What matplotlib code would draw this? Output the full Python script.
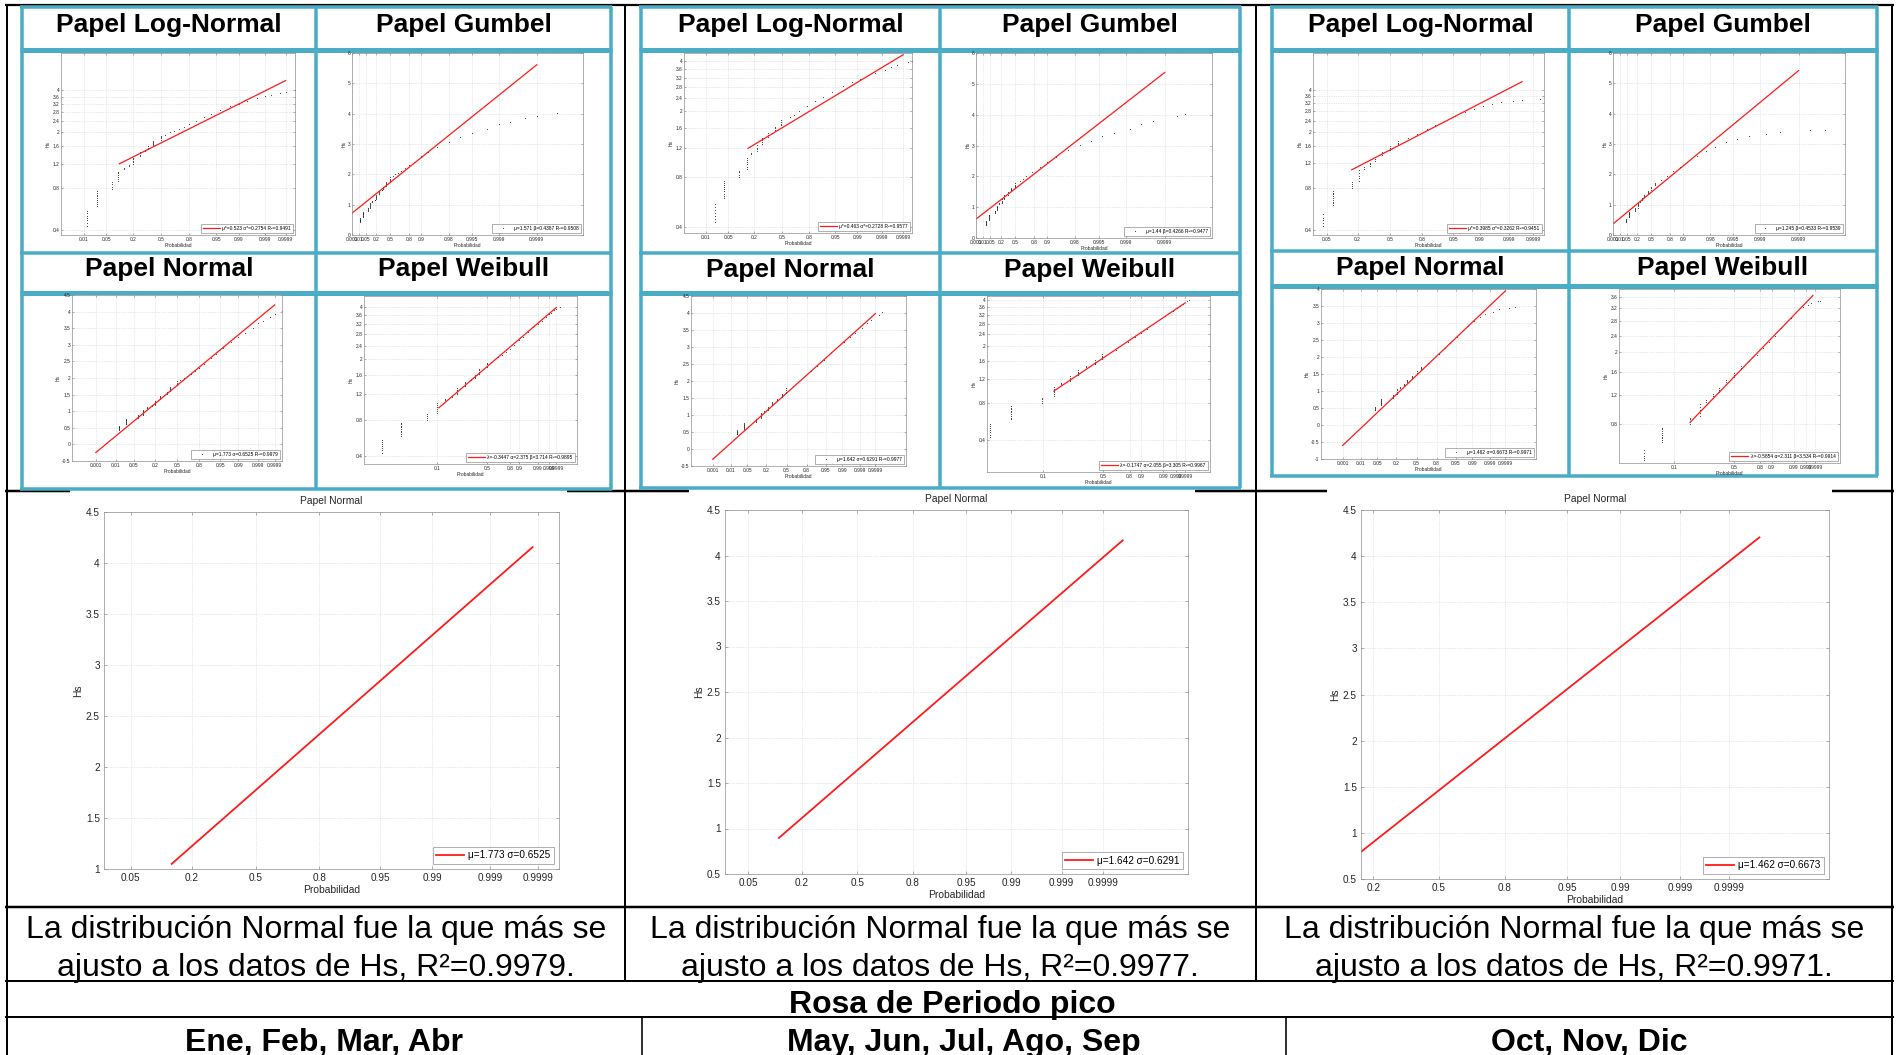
import numpy as np
import matplotlib.pyplot as plt
from matplotlib.patches import Rectangle
from matplotlib.ticker import FormatStrFormatter, NullLocator
from math import erf, sqrt

plt.rcParams['font.family'] = ['Liberation Sans', 'DejaVu Sans']

W, H = 1898, 1055
CIAN = '#4BACC6'
ROJO = '#ff1a1a'
GRIS = '#8f8f8f'

temporadas = ['Ene, Feb, Mar, Abr', 'May, Jun, Jul, Ago, Sep', 'Oct, Nov, Dic']
titulos_papel = ['Papel Log-Normal', 'Papel Gumbel', 'Papel Normal', 'Papel Weibull']

# probabilidad de no excedencia y Hs (m) de cada muestra
ene_prob = ([0.013] * 7 + [0.027] * 9 + [0.07] * 4 + [0.10] * 6 + [0.13] * 2 + [0.17] * 2
            + [0.20] * 5 + [0.26] * 4 + [0.31] * 2 + [0.35] * 3 + [0.40] * 5 + [0.50] * 4
            + [0.55, 0.60, 0.65, 0.70, 0.75, 0.80, 0.85, 0.90, 0.93, 0.96, 0.98, 0.99,
               0.995, 0.998, 0.999, 0.9995, 0.9998, 0.9999, 0.99997])
ene_hs = [0.43, 0.45, 0.47, 0.49, 0.51, 0.53, 0.55,
          0.60, 0.62, 0.64, 0.66, 0.68, 0.70, 0.72, 0.74, 0.76,
          0.79, 0.82, 0.85, 0.88,
          0.90, 0.93, 0.96, 0.99, 1.02, 1.05,
          1.10, 1.12,
          1.15, 1.17,
          1.20, 1.23, 1.26, 1.29, 1.32,
          1.36, 1.39, 1.42, 1.45,
          1.48, 1.50,
          1.53, 1.56, 1.59,
          1.62, 1.65, 1.68, 1.71, 1.74,
          1.78, 1.82, 1.86, 1.90,
          1.93, 2.00, 2.05, 2.12, 2.20, 2.30, 2.42, 2.60, 2.72, 2.90, 3.08, 3.22,
          3.35, 3.50, 3.65, 3.72, 3.85, 3.92, 4.02]

may_prob = ([0.02] * 7 + [0.038] * 9 + [0.097] * 4 + [0.14] * 6 + [0.17] * 2 + [0.22] * 4
            + [0.27] * 4 + [0.34] * 3 + [0.42] * 4 + [0.49] * 4
            + [0.60, 0.65, 0.70, 0.78, 0.85, 0.90, 0.94, 0.97, 0.985, 0.992, 0.996, 0.998,
               0.9992, 0.9996, 0.9998, 0.99995, 0.99997])
may_hs = [0.43, 0.45, 0.47, 0.49, 0.51, 0.53, 0.55,
          0.60, 0.62, 0.64, 0.66, 0.68, 0.70, 0.72, 0.74, 0.76,
          0.80, 0.83, 0.86, 0.88,
          0.90, 0.93, 0.96, 0.99, 1.02, 1.05,
          1.10, 1.12,
          1.15, 1.18, 1.21, 1.25,
          1.28, 1.31, 1.35, 1.38,
          1.41, 1.45, 1.48,
          1.52, 1.55, 1.58, 1.62,
          1.65, 1.69, 1.73, 1.78,
          1.85, 1.90, 2.00, 2.15, 2.30, 2.45, 2.62, 2.85, 3.02, 3.15, 3.30, 3.42,
          3.55, 3.70, 3.80, 3.95, 4.03]

oct_prob = ([0.04] * 5 + [0.07] * 9 + [0.16] * 4 + [0.21] * 5 + [0.25] * 2 + [0.30] * 3
            + [0.35] * 3 + [0.42] * 3 + [0.50] * 3 + [0.58] * 3
            + [0.68, 0.76, 0.83, 0.88, 0.92, 0.955, 0.975, 0.985, 0.992, 0.996, 0.998,
               0.9993, 0.9997, 0.99995, 0.99998])
oct_hs = [0.43, 0.45, 0.47, 0.49, 0.52,
          0.60, 0.62, 0.64, 0.66, 0.68, 0.70, 0.72, 0.74, 0.76,
          0.80, 0.83, 0.86, 0.88,
          0.90, 0.94, 0.98, 1.02, 1.07,
          1.10, 1.12,
          1.15, 1.18, 1.21,
          1.25, 1.28, 1.32,
          1.38, 1.41, 1.45,
          1.50, 1.54, 1.58,
          1.65, 1.68, 1.72,
          1.82, 1.95, 2.10, 2.25, 2.40, 2.60, 2.78, 2.90, 3.05, 3.18, 3.25,
          3.33, 3.40, 3.45, 3.47]

datos = [(ene_prob, ene_hs), (may_prob, may_hs), (oct_prob, oct_hs)]

# parámetros ajustados por temporada
normal_mu = [1.773, 1.642, 1.462]
normal_sigma = [0.6525, 0.6291, 0.6673]
normal_r2 = [0.9979, 0.9977, 0.9971]
lognorm_mu = [0.523, 0.463, 0.3985]
lognorm_sigma = [0.2754, 0.2728, 0.3262]
lognorm_r2 = [0.9491, 0.9577, 0.9451]
gumbel_mu = [1.571, 1.44, 1.245]
gumbel_beta = [0.4387, 0.4266, 0.4533]
gumbel_r2 = [0.9508, 0.9477, 0.9539]
weibull_loc = [-0.3447, -0.1747, -0.5854]
weibull_esc = [2.375, 2.055, 2.311]
weibull_forma = [3.714, 3.305, 3.534]
weibull_r2 = [0.9895, 0.9967, 0.9914]

# rango de probabilidad que cubre cada recta de ajuste
rango_normal = [(0.001, 0.9999), (0.001, 0.9999), (0.001, 0.9999)]
rango_lognorm = [(0.105, 0.9999), (0.15, 0.9999), (0.16, 0.9997)]
rango_gumbel = [(0.001, 0.9999), (0.001, 0.9999), (0.001, 0.9999)]
rango_weibull = [(0.106, 0.9999), (0.139, 0.9999), (0.16, 0.9998)]
rango_grande = [(0.134, 0.99987), (0.118, 0.99997), (0.16, 0.99998)]

ticks_normal = [0.001, 0.01, 0.05, 0.2, 0.5, 0.8, 0.95, 0.99, 0.999, 0.9999]
ticks_lognorm = [0.01, 0.05, 0.2, 0.5, 0.8, 0.95, 0.99, 0.999, 0.9999]
ticks_gumbel = [0.001, 0.01, 0.05, 0.2, 0.5, 0.8, 0.9, 0.98, 0.995, 0.999, 0.9999]
ticks_weibull = [0.1, 0.5, 0.8, 0.9, 0.99, 0.999, 0.9999]
ticks_grande = [0.05, 0.2, 0.5, 0.8, 0.95, 0.99, 0.999, 0.9999]
hs_ticks_log = [0.4, 0.8, 1.2, 1.6, 2, 2.4, 2.8, 3.2, 3.6, 4]

# limites de ejes (en unidades del papel)
lim_normal = [((-4, 4), (-0.5, 4.5)), ((-4, 5), (-0.5, 4.5)), ((-4, 5), (-1, 4))]
lim_lognorm = [((-3, 4), (0.37, 7.4)), ((-3, 4), (0.37, 4.5)), ((-2, 4), (0.37, 7.3))]
lim_gumbel = [((-1.94, 12), (0, 6))] * 3
lim_weibull = [((-5, 3), (-0.39, 1.6)), ((-4, 3), (-1.0, 1.49)), ((-4, 3), (-0.01, 1.5))]
lim_grande = [((-2, 4), (1, 4.5)), ((-2, 5), (0.5, 4.5)), ((-1, 5), (0.5, 4.5))]


def z_normal(p):
    p = np.atleast_1d(np.asarray(p, dtype=float))
    fda = np.vectorize(lambda v: 0.5 * (1 + erf(v / sqrt(2))))
    lo, hi = np.full(p.shape, -9.0), np.full(p.shape, 9.0)
    for _ in range(60):
        mid = (lo + hi) / 2
        abajo = fda(mid) < p
        lo = np.where(abajo, mid, lo)
        hi = np.where(abajo, hi, mid)
    return (lo + hi) / 2


def x_gumbel(p):
    return -np.log(-np.log(np.asarray(p, dtype=float)))


def x_weibull(p):
    return np.log(-np.log(1 - np.asarray(p, dtype=float)))


def caja(x0, y0, x1, y1):
    return [x0 / W, 1 - y1 / H, (x1 - x0) / W, (y1 - y0) / H]


def estilo(ax, fs, largo):
    for s in ax.spines.values():
        s.set_color(GRIS)
        s.set_linewidth(0.5)
    ax.tick_params(which='both', direction='in', length=largo, width=0.5, color=GRIS,
                   labelcolor='#262626', labelsize=fs, top=True, right=True, pad=1.2)
    ax.grid(True, color='#d4d4d4', linestyle=(0, (1, 1.5)), linewidth=0.5)
    ax.set_axisbelow(True)


def leyenda(ax, fs, **kw):
    lg = ax.legend(loc='lower right', fontsize=fs, fancybox=False, framealpha=1,
                   edgecolor=GRIS, numpoints=1, **kw)
    lg.get_frame().set_linewidth(0.5)


def ejes_prob(ax, xt, ticks, fs):
    ax.set_xticks(xt)
    ax.set_xticklabels([f'{t:g}' for t in ticks])
    ax.xaxis.set_minor_locator(NullLocator())
    ax.set_xlabel('Probabilidad', fontsize=fs, labelpad=0.8, color='#262626')
    ax.set_ylabel('Hs', fontsize=fs, labelpad=1, color='#262626')


def limites(ax, lim):
    ax.set_xlim(*lim[0])
    ax.set_ylim(*lim[1])


def puntos(ax, x, y, **kw):
    ax.plot(x, y, 'o', ms=0.6, color='#222222', mew=0, **kw)


FS = 3.5
fig = plt.figure(figsize=(W / 100, H / 100), dpi=100)
tabla = fig.add_axes([0, 0, 1, 1])
tabla.set_xlim(0, W)
tabla.set_ylim(H, 0)
tabla.axis('off')


def linea(x0, y0, x1, y1, color='black', px=2.5, z=1):
    tabla.plot([x0, x1], [y0, y1], color=color, lw=px * 0.72, solid_capstyle='butt', zorder=z)


# bordes negros de la tabla
linea(5, 5, 1894, 5, px=2.2)
linea(5, 491, 1894, 491)
linea(5, 907, 1894, 907)
linea(5, 981, 1894, 981, px=2)
linea(5, 1017, 1894, 1017, px=2)
for xv in (7, 1892):
    linea(xv, 4, xv, H, px=2)
for xv in (625, 1256):
    linea(xv, 4, xv, 981, px=2)
for xv in (642, 1286):
    linea(xv, 1017, xv, H, px=1.6)

# fondo blanco de los gráficos grandes (tapa el borde)
for x0, x1 in ((70, 567), (689, 1195), (1327, 1832)):
    tabla.add_patch(Rectangle((x0, 489), x1 - x0, 415, facecolor='white', edgecolor='none', zorder=3))

# rejillas cian con los cuatro papeles
cian_x = [(22, 316, 611), (641, 940, 1240), (1272, 1569, 1877)]
cian_y = [(7, 49.5, 252.5, 292.5, 489), (7, 49.5, 252.5, 292.5, 488), (7, 49.5, 250.5, 286, 476)]
ajuste_fila2 = [-3.5, -2.5, -0.5]
for (xa, xm, xb), (ya, yh1, yf, yh2, yb), dy2 in zip(cian_x, cian_y, ajuste_fila2):
    for xv in (xa, xm, xb):
        linea(xv, ya, xv, yb, CIAN, 3.5, 4)
    for yv in (ya, yf, yb):
        linea(xa - 1.5, yv, xb + 1.5, yv, CIAN, 3.5, 4)
    for yv in (yh1, yh2):
        linea(xa - 1.5, yv, xb + 1.5, yv, CIAN, 5, 4)
    centros = [((xa + xm) / 2, (ya + yh1) / 2 - 3.5), ((xm + xb) / 2, (ya + yh1) / 2 - 3.5),
               ((xa + xm) / 2, (yf + yh2) / 2 + dy2), ((xm + xb) / 2, (yf + yh2) / 2 + dy2)]
    for i, (cx, cy) in enumerate(centros):
        tabla.text(cx, cy, titulos_papel[i], fontsize=19, fontweight='bold',
                   ha='center', va='center', zorder=5)

cajas_ln = [(61, 53, 295, 235), (684, 53, 912, 233), (1313, 53, 1544, 235)]
cajas_gu = [(352, 53, 583, 235), (976, 53, 1212, 238), (1613, 53, 1845, 235)]
cajas_no = [(72, 295, 282, 461), (691, 296, 906, 466), (1321, 289, 1536, 459)]
cajas_we = [(364, 296, 577, 464), (987, 296, 1210, 472), (1619, 289, 1840, 463)]
cajas_grandes = [(104, 512, 559, 869), (725, 510, 1188, 874), (1361, 510, 1829, 879)]

for k in range(3):
    prob, hs = datos[k]
    prob = np.array(prob)
    hs = np.array(hs)

    # Papel Log-Normal
    ax = fig.add_axes(caja(*cajas_ln[k]))
    estilo(ax, FS, 1.3)
    ax.set_yscale('log')
    puntos(ax, z_normal(prob), hs)
    xl = z_normal(rango_lognorm[k])
    ax.plot(xl, np.exp(lognorm_mu[k] + lognorm_sigma[k] * xl), color=ROJO, lw=0.9,
            label=f'μ*={lognorm_mu[k]:g} σ*={lognorm_sigma[k]:g} R²={lognorm_r2[k]:g}')
    ejes_prob(ax, z_normal(ticks_lognorm), ticks_lognorm, FS)
    ax.set_yticks(hs_ticks_log)
    ax.yaxis.set_major_formatter(FormatStrFormatter('%g'))
    ax.yaxis.set_minor_locator(NullLocator())
    limites(ax, lim_lognorm[k])
    leyenda(ax, FS, handlelength=3.5, borderpad=0.4, borderaxespad=0.5, handletextpad=0.5)

    # Papel Gumbel
    ax = fig.add_axes(caja(*cajas_gu[k]))
    estilo(ax, FS, 1.3)
    puntos(ax, x_gumbel(prob), hs,
           label=f'μ={gumbel_mu[k]:g} β={gumbel_beta[k]:g} R²={gumbel_r2[k]:g}')
    xl = x_gumbel(rango_gumbel[k])
    xl[0] = lim_gumbel[k][0][0]
    ax.plot(xl, gumbel_mu[k] + gumbel_beta[k] * xl, color=ROJO, lw=0.9)
    ejes_prob(ax, x_gumbel(ticks_gumbel), ticks_gumbel, FS)
    ax.set_yticks(range(0, 7))
    limites(ax, lim_gumbel[k])
    leyenda(ax, FS, handlelength=3.5, borderpad=0.4, borderaxespad=0.5, handletextpad=0.5)

    # Papel Normal
    ax = fig.add_axes(caja(*cajas_no[k]))
    estilo(ax, FS, 1.3)
    puntos(ax, z_normal(prob), hs,
           label=f'μ={normal_mu[k]:g} σ={normal_sigma[k]:g} R²={normal_r2[k]:g}')
    xl = z_normal(rango_normal[k])
    ax.plot(xl, normal_mu[k] + normal_sigma[k] * xl, color=ROJO, lw=0.9)
    ejes_prob(ax, z_normal(ticks_normal), ticks_normal, FS)
    y0, y1 = lim_normal[k][1]
    ax.set_yticks(np.arange(y0, y1 + 0.01, 0.5))
    ax.yaxis.set_major_formatter(FormatStrFormatter('%g'))
    limites(ax, lim_normal[k])
    leyenda(ax, FS, handlelength=3.5, borderpad=0.4, borderaxespad=0.5, handletextpad=0.5)

    # Papel Weibull (eje y en ln(Hs - λ))
    ax = fig.add_axes(caja(*cajas_we[k]))
    estilo(ax, FS, 1.3)
    loc = weibull_loc[k]
    puntos(ax, x_weibull(prob), np.log(hs - loc))
    xl = x_weibull(rango_weibull[k])
    ax.plot(xl, np.log(weibull_esc[k]) + xl / weibull_forma[k], color=ROJO, lw=0.9,
            label=f'λ={loc:g} α={weibull_esc[k]:g} β={weibull_forma[k]:g} R²={weibull_r2[k]:g}')
    ejes_prob(ax, x_weibull(ticks_weibull), ticks_weibull, FS)
    ax.set_yticks(np.log(np.array(hs_ticks_log) - loc))
    ax.set_yticklabels([f'{t:g}' for t in hs_ticks_log])
    limites(ax, lim_weibull[k])
    leyenda(ax, FS, handlelength=3.5, borderpad=0.4, borderaxespad=0.5, handletextpad=0.5)

    # Papel Normal ampliado
    ax = fig.add_axes(caja(*cajas_grandes[k]))
    ax.set_zorder(5)
    estilo(ax, 7.2, 2.2)
    ax.tick_params(pad=3)
    xl = z_normal(rango_grande[k])
    ax.plot(xl, normal_mu[k] + normal_sigma[k] * xl, color=ROJO, lw=1.3,
            label=f'μ={normal_mu[k]:g} σ={normal_sigma[k]:g}')
    ax.set_xticks(z_normal(ticks_grande))
    ax.set_xticklabels([f'{t:g}' for t in ticks_grande])
    y0, y1 = lim_grande[k][1]
    ax.set_yticks(np.arange(y0, y1 + 0.01, 0.5))
    ax.yaxis.set_major_formatter(FormatStrFormatter('%g'))
    limites(ax, lim_grande[k])
    ax.set_title('Papel Normal', fontsize=7.4, pad=5.5, color='#262626')
    ax.set_xlabel('Probabilidad', fontsize=7.4, labelpad=1.5, color='#262626')
    ax.set_ylabel('Hs', fontsize=7.4, labelpad=2, color='#262626')
    leyenda(ax, 7.2, handlelength=2.8, borderpad=0.35, borderaxespad=0.5, handletextpad=0.4)

    # conclusión de cada temporada
    cx = [316, 940, 1574][k]
    tabla.text(cx, 930, 'La distribución Normal fue la que más se', fontsize=23,
               ha='center', va='center', zorder=5)
    tabla.text(cx, 968, f'ajusto a los datos de Hs, R²={normal_r2[k]:g}.', fontsize=23,
               ha='center', va='center', zorder=5)
    tabla.text([324, 964, 1589][k], 1043, temporadas[k], fontsize=23, fontweight='bold',
               ha='center', va='center', zorder=5)

tabla.text(952, 1005, 'Rosa de Periodo pico', fontsize=23, fontweight='bold',
           ha='center', va='center', zorder=5)

fig.savefig('out.png', dpi=100, facecolor='white')
